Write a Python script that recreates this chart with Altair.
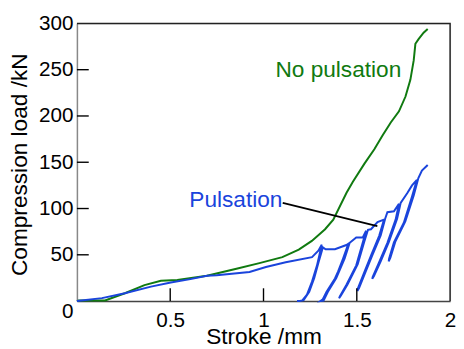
import altair as alt
import pandas as pd

# ---- data ----
green_x = [0.0, 0.01, 0.151, 0.257, 0.362, 0.45, 0.538, 0.697, 0.855, 0.978, 1.101, 1.189,
           1.259, 1.33, 1.374, 1.445, 1.479, 1.541, 1.594, 1.637, 1.682, 1.726, 1.761,
           1.787, 1.805, 1.814, 1.831, 1.858, 1.880]
green_y = [0.0, 0.7, 0.7, 8.5, 17.3, 22.0, 22.7, 27.3, 35.0, 41.0, 47.5, 55.6,
           65.0, 77.6, 88.0, 117.0, 129.0, 148.5, 164.0, 178.5, 193.0, 205.0, 221.0,
           239.0, 260.0, 278.0, 283.0, 290.0, 294.0]

blue_x = [0.0, 0.134, 0.257, 0.397, 0.503, 0.608, 0.697, 0.749, 0.925, 1.013, 1.119, 1.26, 1.294, 1.312,
          1.300, 1.286, 1.26, 1.233, 1.207, 1.18,
          1.195, 1.215, 1.245, 1.272, 1.295, 1.318, 1.333, 1.383, 1.444, 1.455,
          1.426, 1.40, 1.383, 1.338, 1.318, 1.305,
          1.322, 1.345, 1.39, 1.435, 1.462, 1.497, 1.532, 1.55,
          1.532, 1.497, 1.444, 1.409, 1.405,
          1.415, 1.45, 1.505, 1.54, 1.56, 1.576, 1.611, 1.646,
          1.62, 1.576, 1.541, 1.506, 1.503,
          1.512, 1.548, 1.584, 1.628, 1.652, 1.664, 1.699, 1.726,
          1.708, 1.664, 1.62, 1.585, 1.583,
          1.592, 1.628, 1.672, 1.716, 1.735, 1.77, 1.796, 1.822,
          1.796, 1.752, 1.699, 1.673, 1.671,
          1.68, 1.706, 1.76, 1.805, 1.83, 1.849, 1.88]
blue_y = [0.0, 3.2, 8.5, 15.6, 20.0, 23.7, 27.3, 28.0, 31.5, 36.8, 42.0, 47.5, 54.5, 61.0,
          50.0, 38.0, 21.0, 7.0, 0.5, 0.0,
          0.0, 1.0, 10.0, 25.0, 42.0, 58.0, 56.0, 56.0, 60.6, 62.0,
          45.7, 32.0, 24.4, 10.0, 2.0, 0.0,
          0.5, 10.0, 25.0, 46.0, 63.0, 68.7, 68.7, 76.0,
          63.4, 38.6, 17.3, 5.0, 3.0,
          6.0, 18.0, 40.0, 64.0, 77.0, 77.6, 85.3, 88.0,
          70.5, 49.2, 31.5, 13.8, 11.0,
          14.0, 32.0, 50.0, 71.0, 89.0, 96.0, 97.0, 105.0,
          88.0, 63.0, 42.0, 26.0, 24.0,
          27.0, 43.0, 64.0, 89.0, 106.0, 116.5, 125.0, 131.0,
          113.0, 84.7, 63.4, 45.7, 43.0,
          47.0, 64.0, 86.0, 114.0, 133.0, 141.0, 147.0]

x_tick_values = [0.5, 1.0, 1.5]
y_tick_values = [50, 100, 150, 200, 250]
x_label_values = [0.5, 1.0, 1.5, 2.0]
y_label_values = [0, 50, 100, 150, 200, 250, 300]

label_text = ["No pulsation", "Pulsation"]
label_x = [1.401, 0.852]
label_y = [242.3, 102.0]
label_color = ["#107a10", "#1a44dc"]

pointer_x = [1.103]
pointer_y = [106.0]
pointer_x2 = [1.61]
pointer_y2 = [81.0]

# plot box outline (top edge then right edge), drawn as one path
box_x = [0.0, 2.0, 2.0]
box_y = [300.0, 300.0, 0.0]

W, H = 379, 282
FONT = "Liberation Sans"

xs = alt.Scale(domain=[0, 2], nice=False, zero=False)
ys = alt.Scale(domain=[0, 300], nice=False, zero=False)

x_axis = alt.Axis(values=x_label_values, ticks=False, grid=False, format="~g",
                  labelFont=FONT, labelFontSize=21, labelColor="#000",
                  labelPadding=9, labelFlush=False,
                  domainColor="#444", domainWidth=1.5,
                  title="Stroke /mm", titleFont=FONT, titleFontSize=23,
                  titleFontWeight="normal", titleColor="#000",
                  titleBaseline="alphabetic", titleY=43)
y_axis = alt.Axis(values=y_label_values, ticks=False, grid=False,
                  labelFont=FONT, labelFontSize=21, labelColor="#000",
                  labelPadding=4, labelFlush=False,
                  labelOffset={"condition": {"test": "datum.value == 0", "value": 11}, "value": 0},
                  domainColor="#888", domainWidth=1.5,
                  title="Compression load /kN", titleFont=FONT, titleFontSize=23,
                  titleFontWeight="normal", titleColor="#000",
                  titleBaseline="alphabetic", titleX=-51, titleY=143)

green_df = pd.DataFrame({"x": green_x, "y": green_y, "i": list(range(len(green_x)))})
blue_df = pd.DataFrame({"x": blue_x, "y": blue_y, "i": list(range(len(blue_x)))})
box_df = pd.DataFrame({"x": box_x, "y": box_y, "i": list(range(len(box_x)))})

frame = alt.Chart(box_df).mark_line(color="#222", strokeWidth=1.5).encode(
    x=alt.X("x:Q", scale=xs, axis=x_axis), y=alt.Y("y:Q", scale=ys, axis=y_axis),
    order="i:Q")

# inward ticks, drawn as rules with both ends from data and a pixel offset
ytick = alt.Chart(pd.DataFrame({"y": y_tick_values})).mark_rule(
    color="#000", strokeWidth=1.4).encode(
    y=alt.Y("y:Q", scale=ys), y2=alt.Y2("y:Q"), x=alt.value(0), x2=alt.value(12))

xtick = alt.Chart(pd.DataFrame({"x": x_tick_values})).mark_rule(
    color="#000", strokeWidth=1.4).encode(
    x=alt.X("x:Q", scale=xs), x2=alt.X2("x:Q"), y=alt.value(H), y2=alt.value(H - 13))

green = alt.Chart(green_df).mark_line(color="#107a10", strokeWidth=2).encode(
    x=alt.X("x:Q", scale=xs), y=alt.Y("y:Q", scale=ys), order="i:Q")

blue = alt.Chart(blue_df).mark_line(color="#1a44dc", strokeWidth=2).encode(
    x=alt.X("x:Q", scale=xs), y=alt.Y("y:Q", scale=ys), order="i:Q")

pointer = alt.Chart(pd.DataFrame({"x": pointer_x, "y": pointer_y,
                                  "x2": pointer_x2, "y2": pointer_y2})).mark_rule(
    color="#000", strokeWidth=1.8).encode(
    x=alt.X("x:Q", scale=xs), y=alt.Y("y:Q", scale=ys), x2="x2:Q", y2="y2:Q")

labels = alt.Chart(pd.DataFrame({"x": label_x, "y": label_y, "t": label_text,
                                 "c": label_color})).mark_text(
    font=FONT, fontSize=23, align="center", baseline="alphabetic").encode(
    x=alt.X("x:Q", scale=xs), y=alt.Y("y:Q", scale=ys), text="t:N",
    color=alt.Color("c:N", scale=None))

chart = alt.layer(frame, green, blue, ytick, xtick, pointer, labels).properties(
    width=W, height=H,
    autosize=alt.AutoSizeParams(type="none"),
    padding={"left": 70, "top": 13, "right": 6, "bottom": 45},
)

chart.save("out.html", embed_options={"renderer": "svg", "actions": False})
